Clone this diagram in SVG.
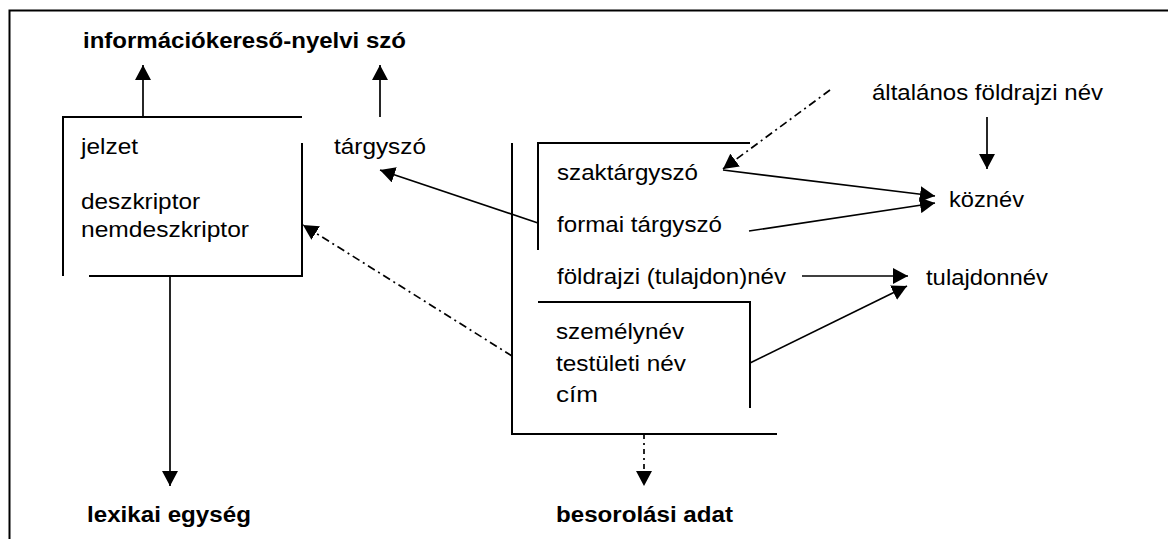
<svg xmlns="http://www.w3.org/2000/svg" width="1168" height="539" viewBox="0 0 1168 539">
<style>
.t{font-family:"Liberation Sans",Arial,sans-serif;font-size:21.5px;fill:#000}
.b{font-weight:bold}
.br{fill:none;stroke:#000;stroke-width:2}
.c{fill:none;stroke:#000;stroke-width:1.7}
.dd{stroke-dasharray:8 4 2 4}
.dt{stroke-dasharray:5 4 2 4}
</style>
<defs>
<marker id="ah" viewBox="0 0 15 16" refX="15" refY="8" markerWidth="15" markerHeight="16" markerUnits="userSpaceOnUse" orient="auto">
<path d="M0,0 L15,8 L0,16 Z" fill="#000"/>
</marker>
</defs>
<rect width="1168" height="539" fill="#fff"/>
<g id="frame"><path class="br" d="M1168,10.5 H9.5 V539"/></g>
<g id="n-title"><text class="t b" transform="translate(83,48) scale(1.12,1)" textLength="288.4" lengthAdjust="spacingAndGlyphs">információkereső-nyelvi szó</text></g>
<g id="n-leftbox">
<path class="br" d="M302,117 H63 V276 M89,276 H302 V143"/>
<text class="t" transform="translate(81,154) scale(1.12,1)" textLength="50.9" lengthAdjust="spacingAndGlyphs">jelzet</text>
<text class="t" transform="translate(81,209) scale(1.12,1)" textLength="106.3" lengthAdjust="spacingAndGlyphs">deszkriptor</text>
<text class="t" transform="translate(81,237) scale(1.12,1)" textLength="150" lengthAdjust="spacingAndGlyphs">nemdeszkriptor</text>
</g>
<g id="n-targyszo"><text class="t" transform="translate(334,154) scale(1.12,1)" textLength="82.1" lengthAdjust="spacingAndGlyphs">tárgyszó</text></g>
<g id="n-besorolas"><path class="br" d="M512,143 V434 H777"/></g>
<g id="n-szak">
<path class="br" d="M750,143 H538 V250"/>
<text class="t" transform="translate(557,180) scale(1.12,1)" textLength="125.9" lengthAdjust="spacingAndGlyphs">szaktárgyszó</text>
<text class="t" transform="translate(557,232) scale(1.12,1)" textLength="147.3" lengthAdjust="spacingAndGlyphs">formai tárgyszó</text>
</g>
<g id="n-foldrajzi"><text class="t" transform="translate(557,284) scale(1.12,1)" textLength="204.5" lengthAdjust="spacingAndGlyphs">földrajzi (tulajdon)név</text></g>
<g id="n-szemely">
<path class="br" d="M538,302 H750 V408"/>
<text class="t" transform="translate(556,339) scale(1.12,1)" textLength="114.3" lengthAdjust="spacingAndGlyphs">személynév</text>
<text class="t" transform="translate(556,371) scale(1.12,1)" textLength="116.1" lengthAdjust="spacingAndGlyphs">testületi név</text>
<text class="t" transform="translate(556,402) scale(1.12,1)" textLength="37.5" lengthAdjust="spacingAndGlyphs">cím</text>
</g>
<g id="n-altalanos"><text class="t" transform="translate(872,100) scale(1.12,1)" textLength="206.3" lengthAdjust="spacingAndGlyphs">általános földrajzi név</text></g>
<g id="n-koznev"><text class="t" transform="translate(949,207) scale(1.12,1)" textLength="67" lengthAdjust="spacingAndGlyphs">köznév</text></g>
<g id="n-tulajdonnev"><text class="t" transform="translate(926,285) scale(1.12,1)" textLength="108.9" lengthAdjust="spacingAndGlyphs">tulajdonnév</text></g>
<g id="n-lexikai"><text class="t b" transform="translate(87,522) scale(1.12,1)" textLength="146.4" lengthAdjust="spacingAndGlyphs">lexikai egység</text></g>
<g id="n-besorolasi-adat"><text class="t b" transform="translate(556,522) scale(1.12,1)" textLength="158" lengthAdjust="spacingAndGlyphs">besorolási adat</text></g>
<g id="connectors">
<line class="c" x1="143" y1="117" x2="143" y2="65" marker-end="url(#ah)"/>
<line class="c" x1="380" y1="117" x2="380" y2="65" marker-end="url(#ah)"/>
<line class="c" x1="170" y1="276" x2="170" y2="486" marker-end="url(#ah)"/>
<line class="c" x1="538" y1="223" x2="380" y2="170" marker-end="url(#ah)"/>
<line class="c dd" x1="512" y1="356" x2="303" y2="225" marker-end="url(#ah)"/>
<line class="c dd" x1="830" y1="90" x2="723" y2="169" marker-end="url(#ah)"/>
<line class="c" x1="723" y1="170" x2="935" y2="196" marker-end="url(#ah)"/>
<line class="c" x1="749" y1="231" x2="935" y2="203" marker-end="url(#ah)"/>
<line class="c" x1="987" y1="117" x2="987" y2="169" marker-end="url(#ah)"/>
<line class="c" x1="802" y1="276" x2="908" y2="276" marker-end="url(#ah)"/>
<line class="c" x1="750" y1="363" x2="907" y2="286" marker-end="url(#ah)"/>
<line class="c dt" x1="644" y1="434" x2="644" y2="486" marker-end="url(#ah)"/>
</g>
</svg>
